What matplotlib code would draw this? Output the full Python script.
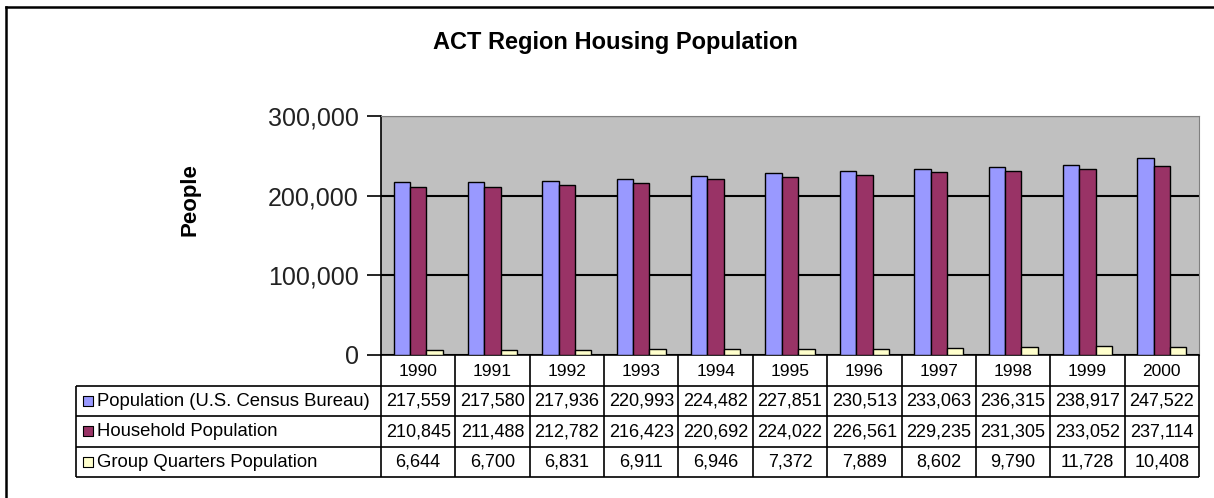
#ACT region housing population - bar chart with data table
import numpy as np
import matplotlib
matplotlib.use("Agg")
import matplotlib.pyplot as plt
from matplotlib.lines import Line2D

plt.rcParams['font.family'] = ['Liberation Sans', 'DejaVu Sans']

years = ['1990', '1991', '1992', '1993', '1994', '1995', '1996', '1997', '1998', '1999', '2000']
series_names = ['Population (U.S. Census Bureau)', 'Household Population', 'Group Quarters Population']
population = [217559, 217580, 217936, 220993, 224482, 227851, 230513, 233063, 236315, 238917, 247522]
household = [210845, 211488, 212782, 216423, 220692, 224022, 226561, 229235, 231305, 233052, 237114]
group_quarters = [6644, 6700, 6831, 6911, 6946, 7372, 7889, 8602, 9790, 11728, 10408]
colors = ['#9999FF', '#993366', '#FFFFCC']

W, H = 1214, 498
fig = plt.figure(figsize=(W/100, H/100), dpi=100)

# plot area, in pixels of the figure
px_left, px_right, px_top, px_bot = 381, 1199, 116, 355
ax = fig.add_axes([px_left/W, 1-px_bot/H, (px_right-px_left)/W, (px_bot-px_top)/H])
ax.set_facecolor('#C0C0C0')

x = np.arange(len(years))
bw = 0.22
all_series = [population, household, group_quarters]
for k, vals in enumerate(all_series):
    ax.bar(x + (k-1)*bw, vals, width=bw, color=colors[k], edgecolor='black',
           linewidth=1.0, zorder=3)

ax.set_xlim(-0.5, len(years)-0.5)
ax.set_ylim(0, 300000)
ax.set_yticks([0, 100000, 200000, 300000])
ax.yaxis.set_major_formatter(matplotlib.ticker.FuncFormatter(lambda v, p: '{:,.0f}'.format(v)))
ax.tick_params(axis='y', labelsize=18, length=10, width=1.2, colors='black', labelcolor='#222222', pad=6)
ax.set_xticks([])
ax.grid(axis='y', color='black', linewidth=1.5, zorder=1)
ax.spines['left'].set_linewidth(1.2)
ax.spines['bottom'].set_linewidth(1.2)
ax.spines['top'].set_color('#808080')
ax.spines['right'].set_color('#808080')

# data table below the plot
tb_left, tb_bot = 76, 477
tab = fig.add_axes([tb_left/W, 1-tb_bot/H, (px_right-tb_left)/W, (tb_bot-px_bot)/H])
colw = (px_right-px_left)/len(years)
labw = (px_left-tb_left)/colw
x0 = -0.5 - labw
x1 = len(years) - 0.5
tab.set_xlim(x0, x1)
tab.set_ylim(4, 0)
tab.axis('off')

lk = dict(color='black', linewidth=1.2, clip_on=False)
tab.hlines([1, 2, 3, 4], x0, x1, **lk)
tab.vlines([x0], 1, 4, **lk)
tab.vlines(np.arange(len(years)+1) - 0.5, 0, 4, **lk)

for i, yr in enumerate(years):
    tab.text(i, 0.55, yr, ha='center', va='center', fontsize=12.5)
for r, vals in enumerate(all_series):
    for i, v in enumerate(vals):
        tab.text(i, r+1.52, '{:,}'.format(v), ha='center', va='center', fontsize=13)
    tab.scatter([x0 + 0.16], [r+1.5], marker='s', s=45, color=colors[r],
                edgecolor='black', linewidth=0.8, clip_on=False)
    tab.text(x0 + 0.28, r+1.52, series_names[r], ha='left', va='center', fontsize=13.3)

fig.text(615/W, 1-42/H, 'ACT Region Housing Population', ha='center', va='center',
         fontsize=17, fontweight='bold')
fig.text(190/W, 1-200/H, 'People', rotation=90, ha='center', va='center',
         fontsize=16, fontweight='bold')

# outer frame (left and top only visible)
fig.add_artist(Line2D([6/W, 6/W], [0, 1-7/H], color='black', linewidth=1.8))
fig.add_artist(Line2D([6/W, 1], [1-7/H, 1-7/H], color='black', linewidth=1.8))

fig.savefig('out.png', dpi=100)
